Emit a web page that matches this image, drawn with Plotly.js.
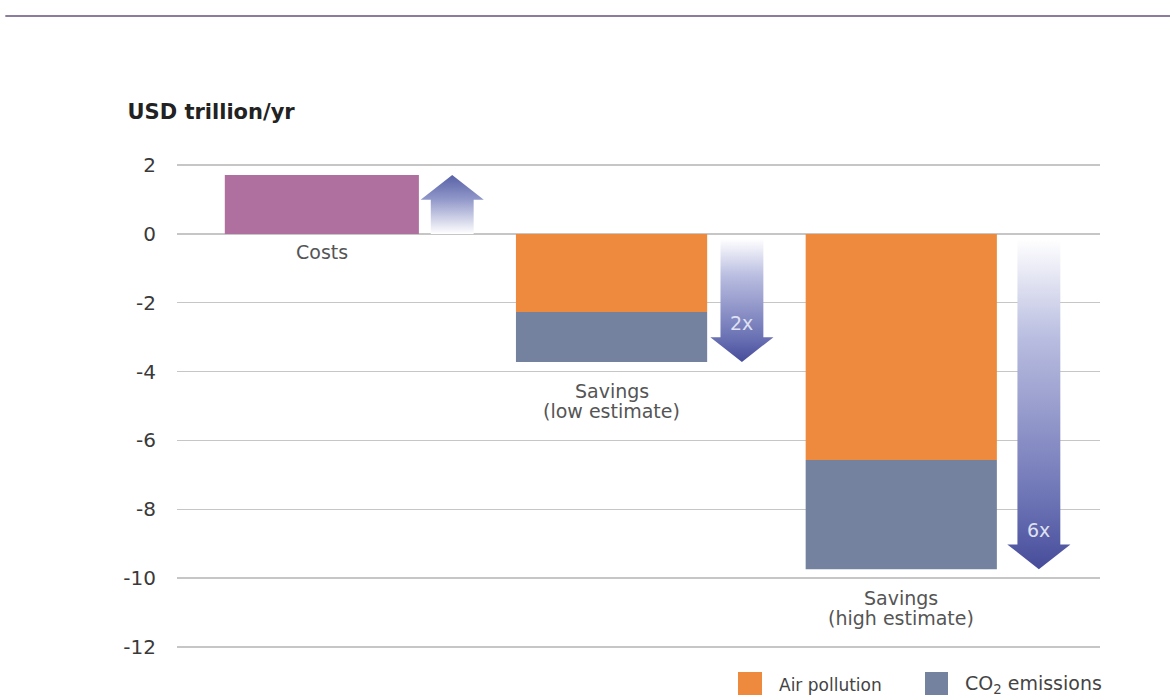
<!DOCTYPE html>
<html>
<head>
<meta charset="utf-8">
<script src="https://cdn.plot.ly/plotly-3.0.1.min.js"></script>
<style>html,body{margin:0;padding:0;background:#fff;}#chart{width:1170px;height:700px;}</style>
</head>
<body>
<div id="chart"></div>
<script>
// ---- data ----
var categories = ['Costs', 'Savings<br>(low estimate)', 'Savings<br>(high estimate)'];
var costs = [1.71, null, null];
var airPollution = [null, -2.27, -6.57];
var co2Emissions = [null, -1.45, -3.17];
var multipliers = ['', '2x', '6x'];
var yTicks = [2, 0, -2, -4, -6, -8, -10, -12];

// ---- styling ----
var FONT = 'DejaVu Sans, Verdana, sans-serif';
var xs = categories.map(function (c, i) { return i; });
var totals = xs.map(function (i) {
  return (costs[i] || 0) + (airPollution[i] || 0) + (co2Emissions[i] || 0);
});

var traces = [
  {type: 'bar', x: xs, y: costs, width: 0.67, marker: {color: '#b0709f'}, name: 'Costs', hoverinfo: 'skip'},
  {type: 'bar', x: xs, y: airPollution, width: 0.66, marker: {color: '#ee8a3d'}, name: 'Air pollution', hoverinfo: 'skip'},
  {type: 'bar', x: xs, y: co2Emissions, width: 0.66, marker: {color: '#74829f'}, name: 'CO2 emissions', hoverinfo: 'skip'}
];

// gradient arrows derived from totals
var offs = [0.45, 0.45, 0.475];
var sw = 0.074, hw = 0.109, hl = 0.72;
var annotations = [];
xs.forEach(function (i) {
  var cx = i + offs[i];
  var tip = totals[i];
  var up = tip > 0;
  var start = up ? 0 : -0.15;
  var neck = up ? tip - hl : tip + hl;
  var px = [cx - sw, cx - sw, cx - hw, cx, cx + hw, cx + sw, cx + sw, cx - sw];
  var py = [start, neck, neck, tip, neck, neck, start, start];
  traces.push({
    type: 'scatter', mode: 'lines', x: px, y: py, fill: 'toself',
    line: {width: 0, color: 'rgba(0,0,0,0)'},
    fillgradient: up ?
      {type: 'vertical', start: start, stop: tip, colorscale: [[0, '#ffffff'], [0.6, '#8f96c8'], [1, '#5861a6']]} :
      {type: 'vertical', start: tip, stop: start, colorscale: [[0, '#474c9a'], [0.2, '#6b72b4'], [0.7, '#b9bde0'], [1, '#ffffff']]},
    hoverinfo: 'skip', showlegend: false
  });
  if (multipliers[i]) {
    annotations.push({x: cx, y: neck, xref: 'x', yref: 'y', text: multipliers[i], showarrow: false,
      yanchor: 'bottom', yshift: 1, font: {family: FONT, size: 19, color: '#dfe1f2'}});
  }
  // category label, one annotation per line for tight line spacing
  var lines = categories[i].split('<br>');
  lines.forEach(function (ln, k) {
    annotations.push({x: i, y: up ? 0 : tip, xref: 'x', yref: 'y', text: ln, showarrow: false,
      yanchor: 'middle', yshift: (up ? -18 : -29) - 20 * k, font: {family: FONT, size: 19, color: '#555'}});
  });
});

// legend (manual)
annotations.push({x: 0.650, y: -0.0764, xref: 'paper', yref: 'paper', xanchor: 'left', yanchor: 'middle',
  text: 'Air pollution', showarrow: false, font: {family: FONT, size: 17, color: '#444'}});
annotations.push({x: 0.8516, y: -0.0764, xref: 'paper', yref: 'paper', xanchor: 'left', yanchor: 'middle',
  text: 'CO<sub>2</sub> emissions', showarrow: false, font: {family: FONT, size: 19, color: '#444'}});

var shapes = [
  {type: 'line', xref: 'paper', yref: 'paper', x0: -0.186, x1: 1.08, y0: 1.306, y1: 1.306, line: {color: '#8b7d9b', width: 2}},
  {type: 'rect', xref: 'paper', yref: 'paper', x0: 0.6078, x1: 0.6338, y0: -0.0496, y1: -0.0971, line: {width: 0}, fillcolor: '#ee8a3d'},
  {type: 'rect', xref: 'paper', yref: 'paper', x0: 0.8104, x1: 0.8353, y0: -0.0496, y1: -0.0971, line: {width: 0}, fillcolor: '#74829f'}
];

var layout = {
  width: 1170, height: 700,
  margin: {l: 177, r: 70, t: 164, b: 52},
  paper_bgcolor: '#fff', plot_bgcolor: '#fff',
  barmode: 'relative',
  showlegend: false,
  title: {text: '<b>USD trillion/yr</b>', x: 0.109, xanchor: 'left', y: 0.84, yanchor: 'middle',
    font: {family: FONT, size: 21, color: '#222'}},
  xaxis: {range: [-0.5, 2.686], showgrid: false, zeroline: false, showticklabels: false, showline: false, fixedrange: true},
  yaxis: {range: [-12.03, 2.03], tickvals: yTicks, ticktext: yTicks.map(String), showgrid: true, gridcolor: '#c6c6c6', gridwidth: 1.5,
    zeroline: true, zerolinecolor: '#c6c6c6', zerolinewidth: 1.5, ticks: '', ticklabelstandoff: 20, showline: false,
    tickfont: {family: FONT, size: 20, color: '#3a3a3a'}, fixedrange: true},
  annotations: annotations,
  shapes: shapes
};

Plotly.newPlot('chart', traces, layout, {displayModeBar: false, staticPlot: true});
</script>
</body>
</html>
